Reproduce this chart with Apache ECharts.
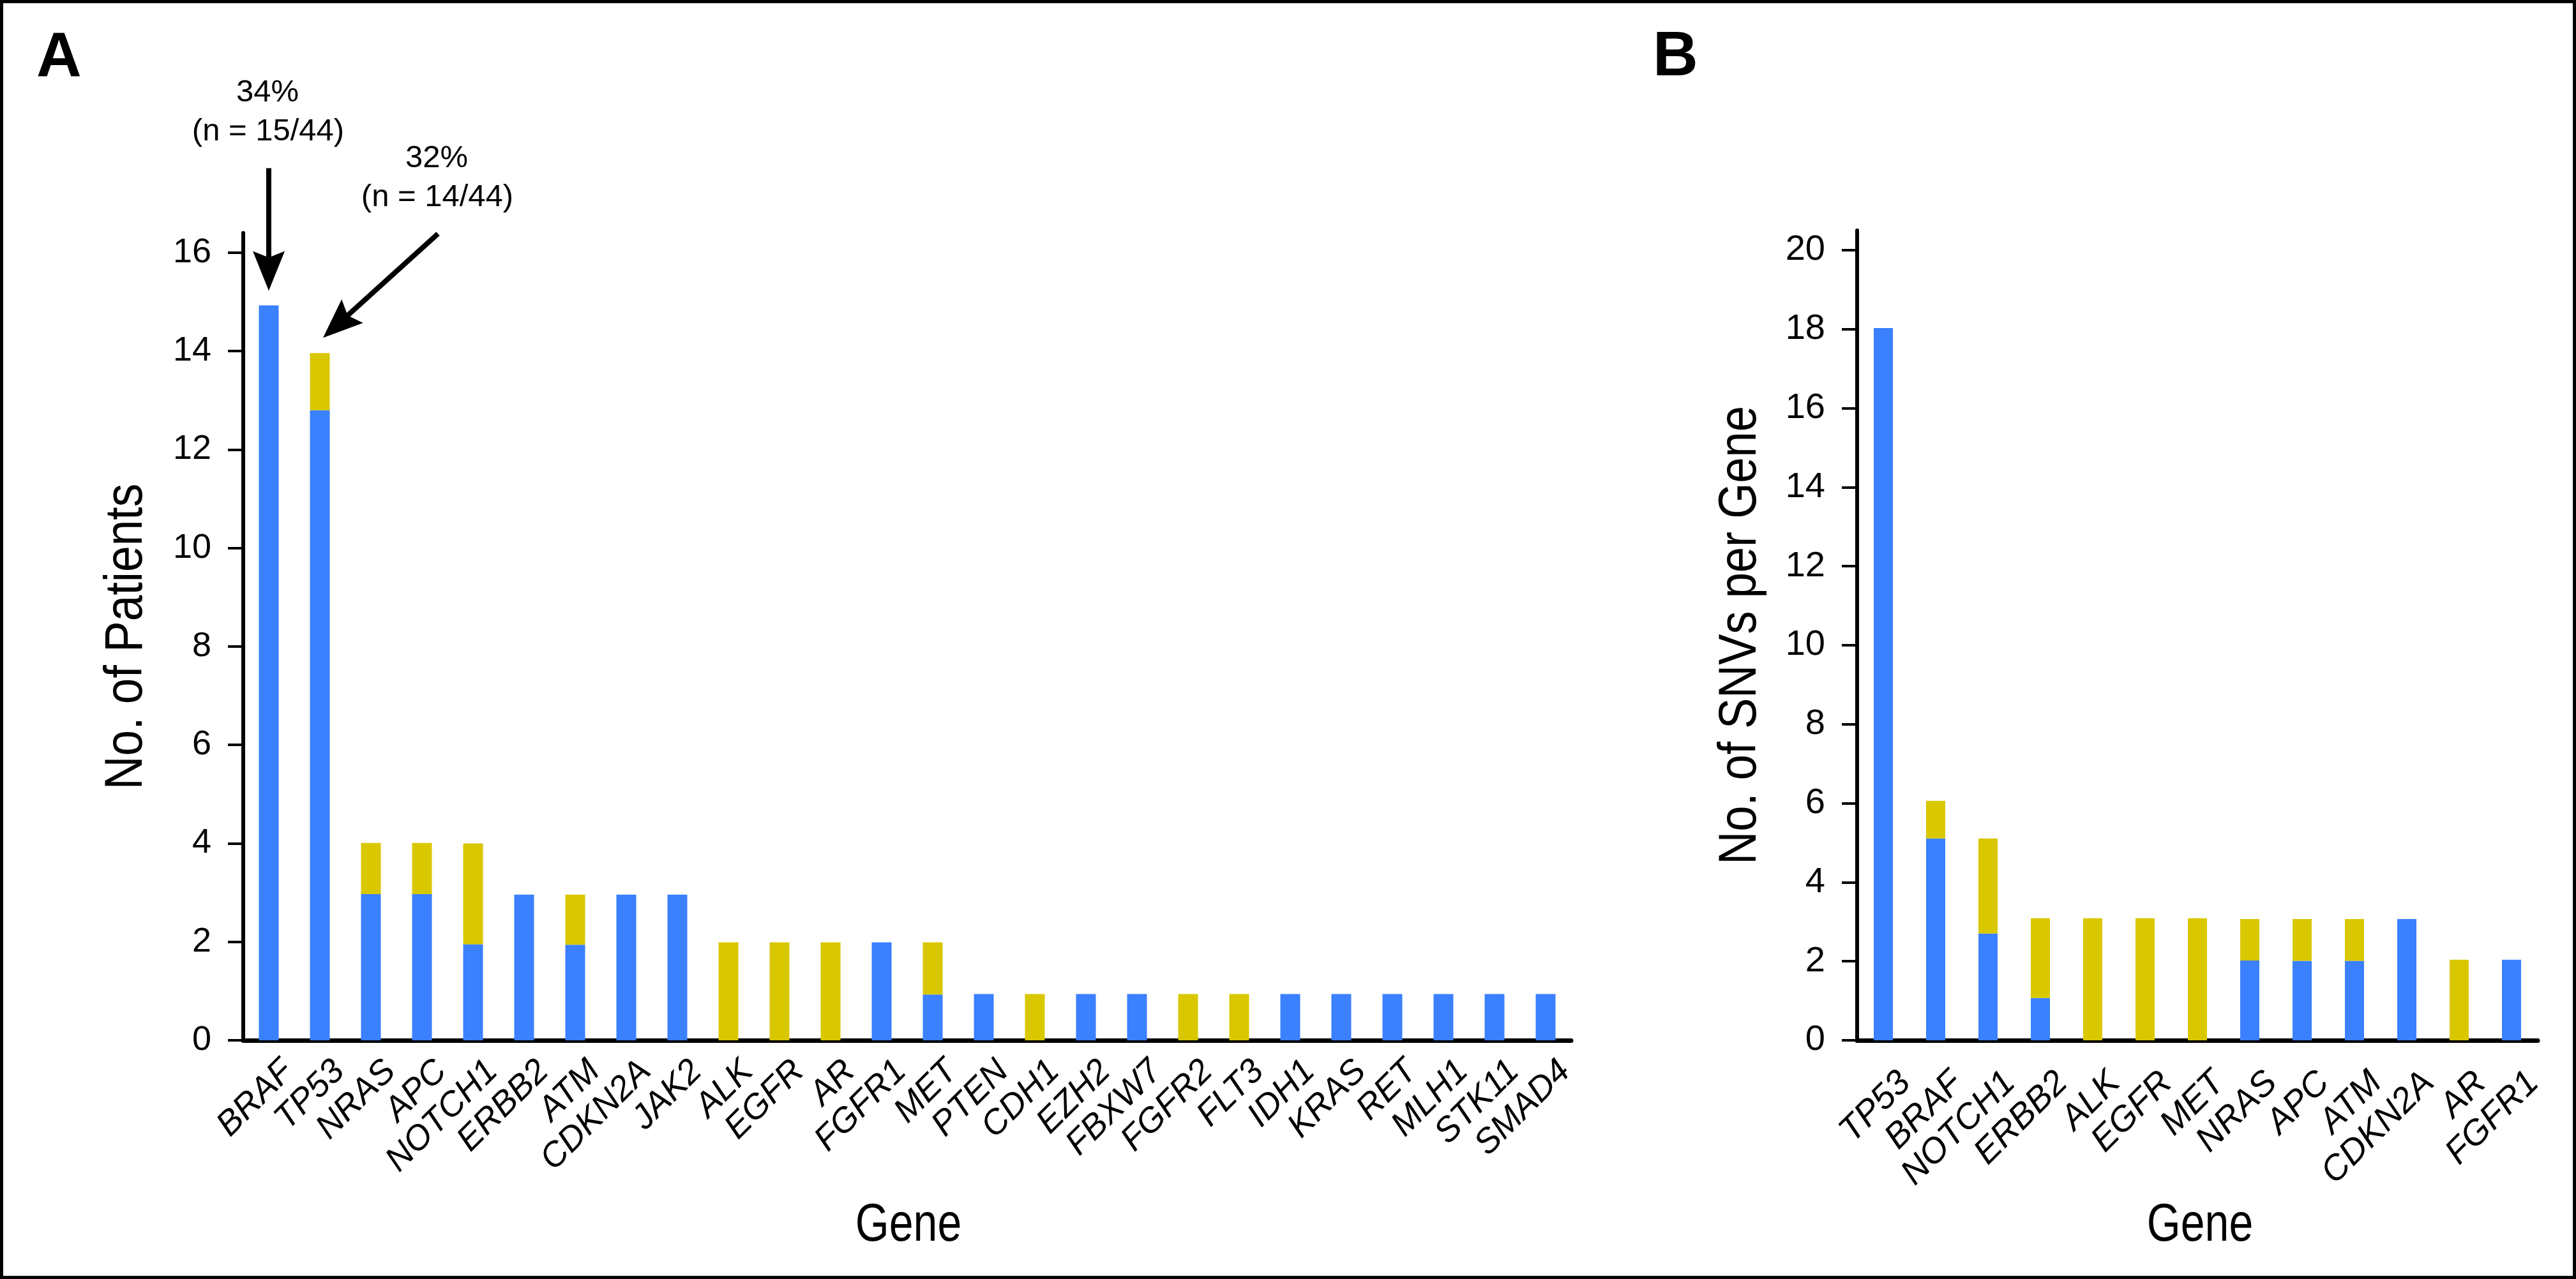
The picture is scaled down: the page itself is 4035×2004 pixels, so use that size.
<!DOCTYPE html>
<html>
<head>
<meta charset="utf-8">
<script src="https://cdn.jsdelivr.net/npm/echarts@6/dist/echarts.min.js"></script>
<style>
html,body{margin:0;padding:0;background:#fff;}
#c{width:4035px;height:2004px;}
</style>
</head>
<body>
<div id="c"></div>
<script>
// ---------- data ----------
const genesA = ['BRAF','TP53','NRAS','APC','NOTCH1','ERBB2','ATM','CDKN2A','JAK2','ALK','EGFR','AR','FGFR1','MET','PTEN','CDH1','EZH2','FBXW7','FGFR2','FLT3','IDH1','KRAS','RET','MLH1','STK11','SMAD4'];
const blueA   = [14.93,12.8,2.97,2.97,1.95,2.96,1.94,2.96,2.96,0,0,0,1.99,0.93,0.94,0,0.94,0.94,0,0,0.94,0.94,0.94,0.94,0.94,0.94];
const yellowA = [0,1.16,1.04,1.04,2.05,0,1.02,0,0,1.99,1.99,1.99,0,1.06,0,0.94,0,0,0.94,0.94,0,0,0,0,0,0];
const ticksA  = [0,2,4,6,8,10,12,14,16];

const genesB  = ['TP53','BRAF','NOTCH1','ERBB2','ALK','EGFR','MET','NRAS','APC','ATM','CDKN2A','AR','FGFR1'];
const blueB   = [18.03,5.11,2.7,1.07,0,0,0,2.02,2.01,2.01,3.07,0,2.04];
const yellowB = [0,0.95,2.41,2.02,3.09,3.09,3.09,1.05,1.06,1.06,0,2.04,0];
const ticksB  = [0,2,4,6,8,10,12,14,16,18,20];

const titleX  = 'Gene';
const titleYA = 'No. of Patients';
const titleYB = 'No. of SNVs per Gene';

const annotA = [
  {gene:'BRAF', pct:'34%', n:'(n = 15/44)'},
  {gene:'TP53', pct:'32%', n:'(n = 14/44)'}
];

// ---------- styles ----------
const fontReg = '"Liberation Sans", Arial, Helvetica, sans-serif';
const BLUE = '#3a80ff', YELLOW = '#d9c700';
const GA = {left:381, top:365, width:2080, height:1265};
const GB = {left:2909, top:361, width:1066, height:1269};

function yAxisCfg(gridIndex, max, ticks, fs){
  return {
    type:'value', gridIndex:gridIndex, min:0, max:max,
    axisLine:{show:true, lineStyle:{color:'#000', width:6}},
    axisTick:{show:true, length:24, customValues:ticks, lineStyle:{color:'#000', width:4}},
    axisLabel:{customValues:ticks, margin:50, color:'#000', fontSize:fs, fontFamily:fontReg},
    splitLine:{show:false}
  };
}
function xAxisCfg(gridIndex, data, fs, pad){
  return {
    type:'category', gridIndex:gridIndex, data:data,
    axisLine:{show:true, lineStyle:{color:'#000', width:7}},
    axisTick:{show:false},
    axisLabel:{interval:0, rotate:45, align:'right', verticalAlign:'top', margin:0, padding:pad,
               fontStyle:'italic', fontSize:fs, fontFamily:fontReg, color:'#000'},
    splitLine:{show:false}
  };
}

const chart = echarts.init(document.getElementById('c'), null, {renderer:'canvas'});
chart.setOption({
  animation:false,
  backgroundColor:'#fff',
  grid:[
    Object.assign({outerBoundsMode:'none', containLabel:false}, GA),
    Object.assign({outerBoundsMode:'none', containLabel:false}, GB)
  ],
  xAxis:[ xAxisCfg(0, genesA, 54, [23,7,0,0]), xAxisCfg(1, genesB, 55, [38,17,0,0]) ],
  yAxis:[ yAxisCfg(0, 16.4, ticksA, 54), yAxisCfg(1, 20.5, ticksB, 56) ],
  series:[
    {name:'blue', type:'bar', xAxisIndex:0, yAxisIndex:0, stack:'A', data:blueA, barWidth:31, itemStyle:{color:BLUE}},
    {name:'yellow', type:'bar', xAxisIndex:0, yAxisIndex:0, stack:'A', data:yellowA, barWidth:31, itemStyle:{color:YELLOW}},
    {name:'blue', type:'bar', xAxisIndex:1, yAxisIndex:1, stack:'B', data:blueB, barWidth:30, itemStyle:{color:BLUE}},
    {name:'yellow', type:'bar', xAxisIndex:1, yAxisIndex:1, stack:'B', data:yellowB, barWidth:30, itemStyle:{color:YELLOW}}
  ]
});

// ---------- annotations (titles, arrows, letters, frame) ----------
function arrow(s, t){
  const dx=t[0]-s[0], dy=t[1]-s[1], L=Math.hypot(dx,dy), ux=dx/L, uy=dy/L, px=-uy, py=ux;
  const HL=62, HW=25, N=10;
  const bx=t[0]-ux*HL, by=t[1]-uy*HL;
  return [
    {type:'line', shape:{x1:s[0], y1:s[1], x2:bx+ux*N, y2:by+uy*N}, style:{stroke:'#000', lineWidth:8}},
    {type:'polygon', shape:{points:[t,[bx+px*HW,by+py*HW],[bx+ux*N,by+uy*N],[bx-px*HW,by-py*HW]]}, style:{fill:'#000'}}
  ];
}
function txt(x, y, s, size, weight, align, va, extra){
  const e = {type:'text', x:x, y:y, style:{text:s, fontSize:size, fontWeight:weight||'normal', fontFamily:fontReg,
          fill:'#000', align:align||'center', verticalAlign:va||'middle', textAlign:align||'center', textVerticalAlign:va||'middle'}};
  return Object.assign(e, extra||{});
}
const els = [];
// axis titles (condensed look via horizontal scale)
els.push(txt(GA.left + GA.width/2 + 2, 1921, titleX, 84, 'normal', 'center', 'middle', {scaleX:0.81}));
els.push(txt(GB.left + GB.width/2 + 4, 1921, titleX, 84, 'normal', 'center', 'middle', {scaleX:0.81}));
els.push(txt(199, GA.top + GA.height/2, titleYA, 84, 'normal', 'center', 'middle', {rotation:Math.PI/2, scaleX:0.87}));
els.push(txt(2727, GB.top + GB.height/2, titleYB, 84, 'normal', 'center', 'middle', {rotation:Math.PI/2, scaleX:0.86}));

// arrow offsets (pixels) relative to bar top
const arrowGeom = [
  {tip:[0,-23], start:[0,-215]},
  {tip:[5,-24], start:[185,-187]}
];
annotA.forEach(function(a, k){
  const i = genesA.indexOf(a.gene);
  const top = chart.convertToPixel({gridIndex:0}, [i, blueA[i]+yellowA[i]]);
  const g = arrowGeom[k];
  const tip = [top[0]+g.tip[0], top[1]+g.tip[1]];
  const st = [top[0]+g.start[0], top[1]+g.start[1]];
  arrow(st, tip).forEach(function(e){ els.push(e); });
  els.push(txt(st[0]-2, st[1]-118, a.pct, 49));
  els.push(txt(st[0]-1, st[1]-57, a.n, 49));
});
els.push(txt(57, 43, 'A', 98, 'bold', 'left', 'top'));
els.push(txt(2589, 42, 'B', 98, 'bold', 'left', 'top'));
els.push({type:'rect', shape:{x:2.5, y:2.5, width:4030, height:1999}, style:{fill:'none', stroke:'#000', lineWidth:5}});
chart.setOption({graphic:els});
</script>
</body>
</html>
